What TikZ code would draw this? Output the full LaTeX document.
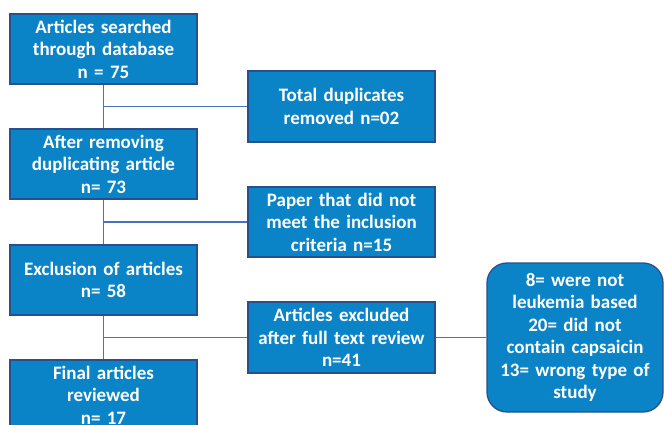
\documentclass[tikz,border=0pt]{standalone}
\usepackage{fontspec}
\setmainfont[WordSpace=0.85]{Carlito}
\definecolor{boxfill}{RGB}{11,132,199}
\definecolor{boxline}{RGB}{40,80,140}
\definecolor{conn}{RGB}{68,114,196}
\begin{document}
\begin{tikzpicture}[x=1pt,y=-1pt,
  flowbox/.style={draw=boxline, line width=1.3pt, fill=boxfill, text=white,
    font=\fontsize{19}{22.5}\selectfont\bfseries, align=center,
    minimum width=187pt, minimum height=70pt, inner sep=0pt, text width=185pt},
  roundbox/.style={flowbox, rounded corners=20pt, minimum width=176pt, minimum height=149pt, text width=174pt},
  link/.style={draw=conn, line width=1.8pt}]
\useasboundingbox (0,0) rectangle (664,425);
\clip (0,0) rectangle (664,425);
\node[flowbox] (b1) at (103.5,49) {Articles searched\\through database\\n = 75};
\node[flowbox, minimum height=71pt] (b2) at (341.5,106.5) {Total duplicates\\removed n=02};
\node[flowbox] (b3) at (103.5,164) {After removing\\duplicating article\\n= 73};
\node[flowbox] (b4) at (341.5,222) {Paper that did not\\meet the inclusion\\criteria n=15};
\node[flowbox] (b5) at (103.5,280) {Exclusion of articles\\n= 58};
\node[flowbox, minimum height=71pt] (b6) at (341.5,337.5) {Articles excluded\\after full text review\\n=41};
\node[flowbox] (b7) at (103.5,395) {Final articles\\reviewed\\n= 17};
\node[roundbox] (r1) at (575,337.5) {8= were not\\leukemia based\\20= did not\\contain capsaicin\\13= wrong type of\\study};
\draw[link] (b1.south) -- (b3.north);
\draw[link] (b1.south |- b2.west) -- (b2.west);
\draw[link] (b3.south) -- (b5.north);
\draw[link] (b3.south |- b4.west) -- (b4.west);
\draw[link] (b5.south) -- (b7.north);
\draw[link] (b5.south |- b6.west) -- (b6.west);
\draw[link] (b6.east) -- (r1.west);
\end{tikzpicture}
\end{document}
